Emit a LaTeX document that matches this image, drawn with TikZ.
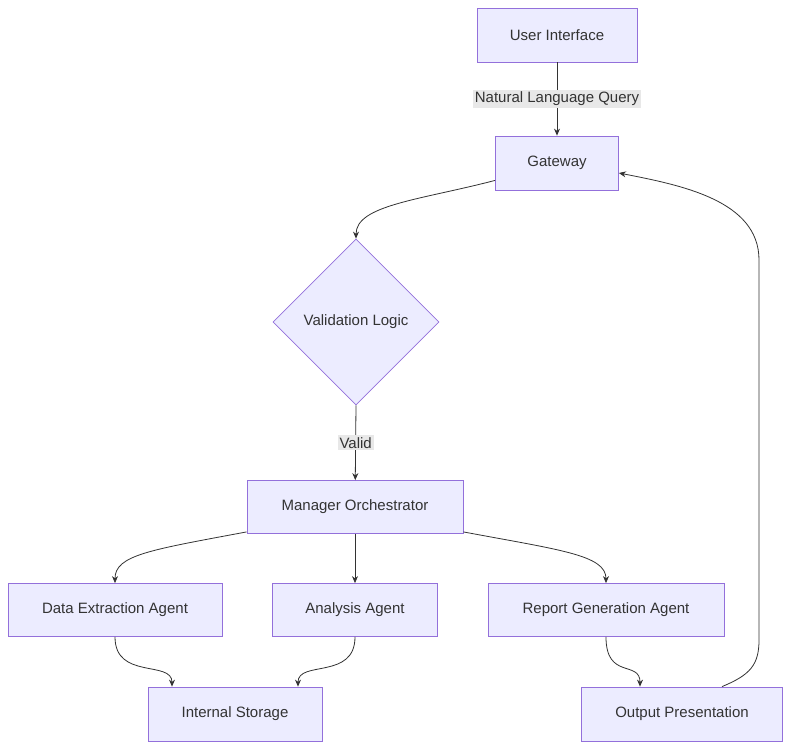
\documentclass[tikz,border=0pt]{standalone}
\usepackage{fontspec}
\setmainfont{Liberation Sans}
\usetikzlibrary{shapes.geometric,arrows.meta}
\definecolor{nf}{HTML}{ECECFF}
\definecolor{ns}{HTML}{9370DB}
\definecolor{tx}{HTML}{333333}
\definecolor{lb}{HTML}{E8E8E8}
\begin{document}
\begin{tikzpicture}[x=1pt,y=-1pt,
  box/.style={draw=ns,fill=nf,line width=0.8pt,text=tx,font=\fontsize{15}{18}\selectfont,inner sep=0pt},
  lab/.style={fill=lb,text=tx,font=\fontsize{15}{18}\selectfont,inner sep=2pt},
  arr/.style={draw=tx,line width=0.8pt,-{Stealth[length=7pt,width=6pt]}}]
\useasboundingbox (0,0) rectangle (792,750);
\node[box,minimum width=160,minimum height=54] (ui) at (557,35) {User Interface};
\node[box,minimum width=123,minimum height=54] (gw) at (557,163) {Gateway};
\node[box,diamond,minimum width=166,minimum height=166,aspect=1] (vl) at (356,322) {Validation Logic};
\node[box,minimum width=216,minimum height=53] (mo) at (355,507) {Manager Orchestrator};
\node[box,minimum width=214,minimum height=53] (de) at (115,610) {Data Extraction Agent};
\node[box,minimum width=165,minimum height=53] (aa) at (355,610) {Analysis Agent};
\node[box,minimum width=236,minimum height=53] (rg) at (606,610) {Report Generation Agent};
\node[box,minimum width=174,minimum height=54] (is) at (235,714) {Internal Storage};
\node[box,minimum width=201,minimum height=54] (op) at (682,714) {Output Presentation};
\coordinate (c1) at (759,260);
\draw[arr] (ui) -- node[lab] {Natural Language Query} (gw);
\draw[arr] (gw.south west) ++(0,-10) .. controls (420,200) and (356,205) .. (vl.north);
\draw[arr] (vl.south) -- node[lab] {Valid} (mo);
\draw[arr] (mo.south west) ++(0,-2) .. controls (150,550) and (115,555) .. (de.north);
\draw[arr] (mo) -- (aa);
\draw[arr] (mo.south east) ++(0,-2) .. controls (560,550) and (606,555) .. (rg.north);
\draw[arr] (de.south) .. controls (115,680) and (172,660) .. ([xshift=-63]is.north);
\draw[arr] (aa.south) .. controls (355,680) and (298,660) .. ([xshift=63]is.north);
\draw[arr] (rg.south) .. controls (606,680) and (640,660) .. ([xshift=-42]op.north);
\draw[arr] ([xshift=40]op.north) .. controls (750,675) and (759,665) .. (759,640) -- (c1) .. controls (759,200) and (680,185) .. ([yshift=-10]gw.east);
\end{tikzpicture}
\end{document}
